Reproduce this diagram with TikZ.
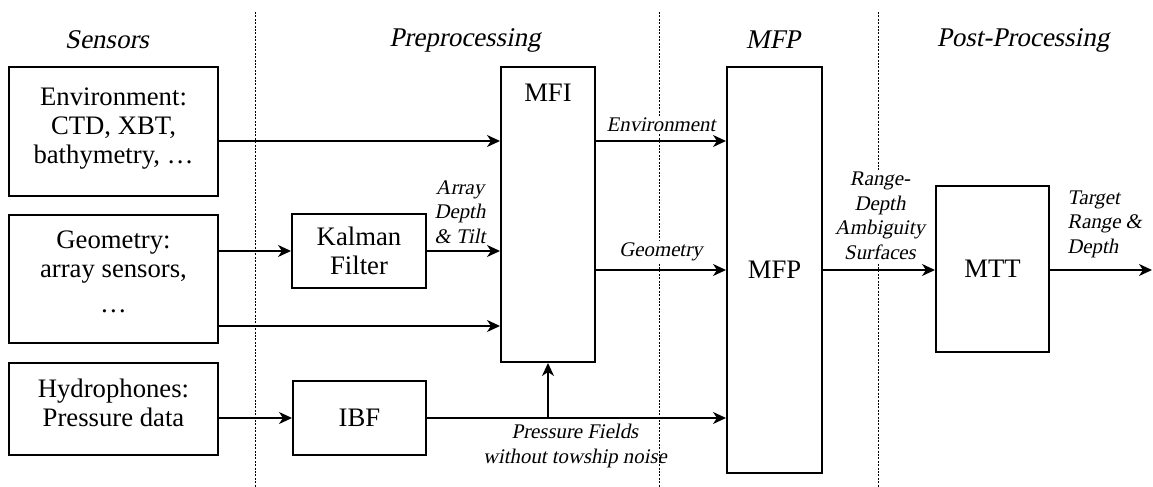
\documentclass[tikz,border=0pt]{standalone}
\usepackage{fontspec}
\newfontfamily\tnr{Liberation Serif}
\newfontfamily\tnrit{Liberation Serif}[FakeSlant=0.2]
\usetikzlibrary{arrows.meta}

\begin{document}
\begin{tikzpicture}[x=0.5pt,y=-0.5pt,
  bloc/.style={draw, line width=1pt, align=center, inner sep=0pt, font=\tnr\fontsize{13.35}{14.5}\selectfont},
  lbl/.style={align=center, inner sep=1pt, font=\tnrit\fontsize{10.4}{12.25}\selectfont},
  titre/.style={font=\tnrit\fontsize{13.5}{14.5}\selectfont},
  fl/.style={-{Stealth[length=6.5pt,width=6pt,inset=2pt]}, line width=1pt},
  sep/.style={line width=0.4pt, dash pattern=on 1pt off 0.7pt}]
\useasboundingbox (0,0) rectangle (1153,487);

% separations
\draw [sep] (255,12)--(255,487);
\draw [sep] (659,12)--(659,487);
\draw [sep] (878,12)--(878,487);

\node [titre] (hsens) at (107,40) {Sensors};
\node [titre] (hpre) at (465,40) {Preprocessing};
\node [titre] (hmfp) at (773,40) {MFP};
\node [titre] (hpost) at (1023,40) {Post-Processing};

\node [bloc, minimum width=104.5pt, minimum height=64.5pt, text depth=6pt] (env) at (113.5,131.5) {Environment:\\CTD, XBT,\\bathymetry, …};
\node [bloc, minimum width=104.5pt, minimum height=64pt, text depth=7pt] (geo) at (113.5,279) {Geometry:\\array sensors,\\[3pt]…};
\node [bloc, minimum width=104.5pt, minimum height=46pt, text depth=6pt] (hyd) at (113.5,409) {Hydrophones:\\Pressure data};
\node [bloc, minimum width=67pt, minimum height=37pt] (kal) at (359,251) {Kalman\\Filter};
\node [bloc, minimum width=66.5pt, minimum height=37pt] (ibf) at (359.5,418) {IBF};
\node [bloc, minimum width=47pt, minimum height=147.5pt] (mfi) at (548,214.5) {};
\node [font=\tnr\fontsize{13.35}{14.5}\selectfont] (mfit) at (548,93) {MFI};
\node [bloc, minimum width=47.5pt, minimum height=203pt] (mfp) at (774.5,270) {MFP};
\node [bloc, minimum width=56.5pt, minimum height=83pt] (mtt) at (992.5,269) {MTT};

\coordinate (yenv) at (0,141);
\coordinate (ygeo) at (0,326);
\coordinate (yout) at (0,270);
\coordinate (fin) at (1152,270);

\draw [fl] (env.east |- yenv)--(mfi.west |- yenv);
\draw [fl] (geo.east |- kal.west)--(kal.west);
\draw [fl] (kal.east)--(mfi.west |- kal.east);
\draw [fl] (geo.east |- ygeo)--(mfi.west |- ygeo);
\draw [fl] (hyd.east |- ibf.west)--(ibf.west);
\draw [fl] (ibf.east)--(mfp.west |- ibf.east);
\draw [fl] (mfi.south |- ibf.east)--(mfi.south);
\draw [fl] (mfi.east |- yenv)--(mfp.west |- yenv) node [lbl, fill=white, midway, above=3pt] (lenv) {Environment};
\draw [fl] (mfi.east |- yout)--(mfp.west |- yout) node [lbl, fill=white, midway, above=3pt] (lgeo) {Geometry};
\draw [fl] (mfp.east |- yout)--(mtt.west |- yout);
\draw [fl] (mtt.east |- yout)--(fin);

\node [lbl] (larr) at (460,212) {Array\\Depth\\\& Tilt};
\node [lbl, fill=white] (lamb) at (880,216) {Range-\\Depth\\Ambiguity\\Surfaces};
\node [lbl, align=left, anchor=west] (ltgt) at (1065,224) {Target\\Range \&\\Depth};
\node [lbl] (lpres) at (575,446) {Pressure Fields\\without towship noise};

\end{tikzpicture}
\end{document}
